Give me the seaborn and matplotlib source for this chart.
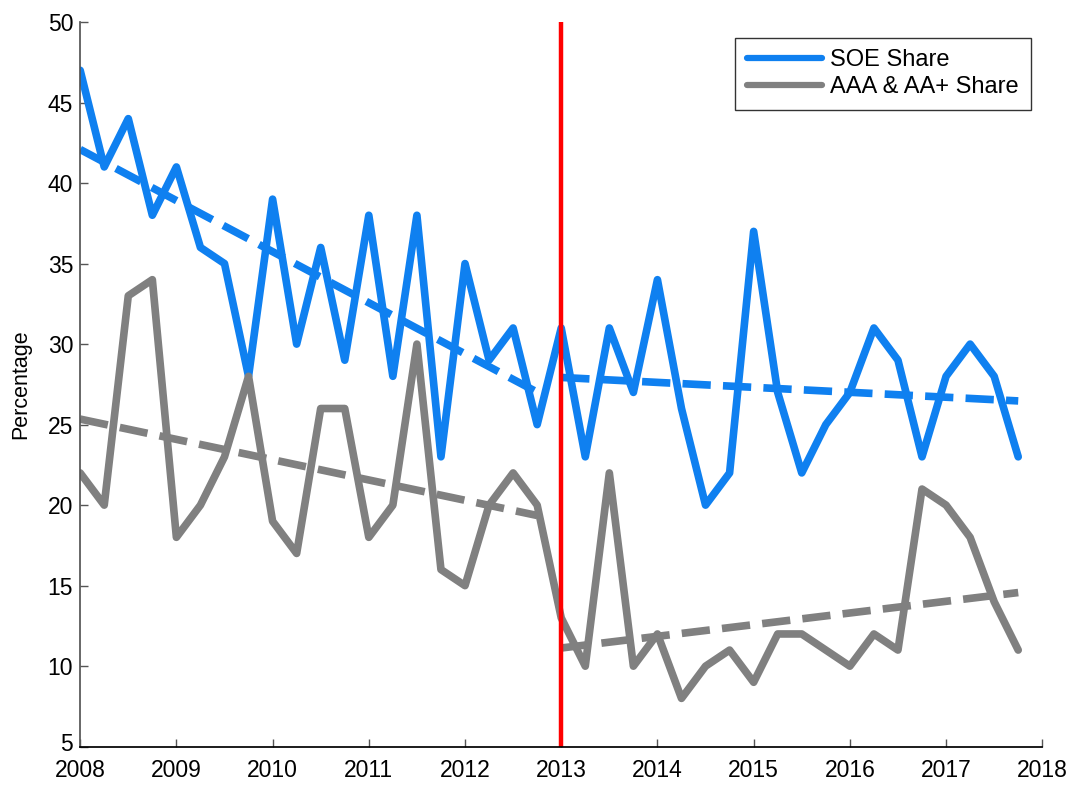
import numpy as np
import pandas as pd
import matplotlib
matplotlib.use("Agg")
import matplotlib.pyplot as plt
import matplotlib.transforms as mtransforms
import seaborn as sns

# quarterly observations, 2008Q1 .. 2017Q4
quarters = [2008 + 0.25 * i for i in range(40)]
soe_share = [47, 41, 44, 38, 41, 36, 35, 28, 39, 30,
             36, 29, 38, 28, 38, 23, 35, 29, 31, 25,
             31, 23, 31, 27, 34, 26, 20, 22, 37, 27,
             22, 25, 27, 31, 29, 23, 28, 30, 28, 23]
aaa_share = [22, 20, 33, 34, 18, 20, 23, 28, 19, 17,
             26, 26, 18, 20, 30, 16, 15, 20, 22, 20,
             13, 10, 22, 10, 12, 8, 10, 11, 9, 12,
             12, 11, 10, 12, 11, 21, 20, 18, 14, 11]
break_year = 2013
year_ticks = list(range(2008, 2019))
pct_ticks = list(range(5, 51, 5))

BLUE = "#0f80f0"
GREY = "#808080"


def trend(x, y):
    """Linear fit over one sub-period."""
    coef = np.polyfit(x, y, 1)
    return np.polyval(coef, x)


def main():
    sns.set_theme(style="ticks")
    plt.rcParams["font.family"] = ["Liberation Sans", "DejaVu Sans"]
    plt.rcParams["text.color"] = "black"
    plt.rcParams["axes.labelcolor"] = "black"

    df = pd.DataFrame({"quarter": quarters, "SOE Share": soe_share,
                       "AAA & AA+ Share": aaa_share})
    df["period"] = np.where(df["quarter"] < break_year, "pre", "post")

    fig = plt.figure(figsize=(10.69, 7.86), dpi=100)
    ax = fig.add_axes([0.075, 0.05, 0.9, 0.922])

    sns.lineplot(data=df, x="quarter", y="SOE Share", color=BLUE, lw=5.5,
                 label="SOE Share", ax=ax)
    sns.lineplot(data=df, x="quarter", y="AAA & AA+ Share", color=GREY, lw=5.5,
                 label="AAA & AA+ Share", ax=ax)

    # separate linear trends before and after the break
    for period, sub in df.groupby("period"):
        for col, c in [("SOE Share", BLUE), ("AAA & AA+ Share", GREY)]:
            ax.plot(sub["quarter"], trend(sub["quarter"], sub[col]),
                    color=c, lw=5.5, ls="--")

    ax.axvline(break_year, color="red", lw=3.2)

    ax.set_xlim(2008, 2018)
    ax.set_ylim(5, 50)
    ax.set_xticks(year_ticks)
    ax.set_yticks(pct_ticks)
    ax.tick_params(direction="in", length=6, width=1, labelsize=16.5,
                   labelcolor="black", color="#555555")
    ax.tick_params(axis="x", pad=9)
    ax.tick_params(axis="y", pad=5)
    ax.set_xlabel("")
    ax.set_ylabel("Percentage", fontsize=15.5, labelpad=12)
    sns.despine(ax=ax)
    ax.spines["left"].set_color("#555555")
    ax.spines["bottom"].set_color("black")

    # lift the bottom "5" a little so it clears the "2008" below it
    lbl = ax.yaxis.get_major_ticks()[0].label1
    lbl.set_transform(lbl.get_transform() +
                      mtransforms.ScaledTranslation(0, 5 / 100, fig.dpi_scale_trans))

    leg = ax.legend(loc="upper right", bbox_to_anchor=(0.993, 0.985), fontsize=17,
                    frameon=True, fancybox=False, edgecolor="black",
                    handlelength=3.2, borderpad=0.5, labelspacing=0.2,
                    handletextpad=0.35, borderaxespad=0.2)
    leg.get_frame().set_linewidth(1.0)
    for h in leg.get_lines():
        h.set_linewidth(4.5)

    fig.savefig("out.png", dpi=100)
    plt.close(fig)


if __name__ == "__main__":
    main()
